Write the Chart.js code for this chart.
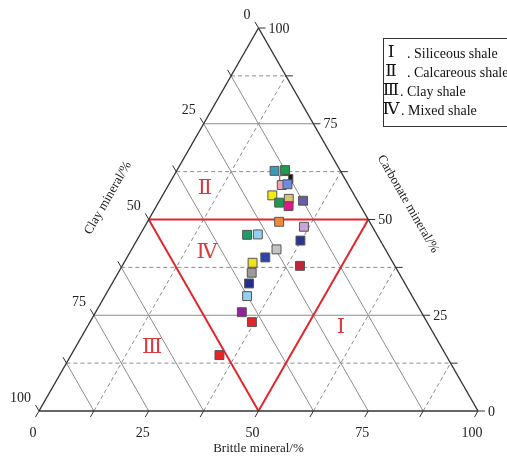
<!DOCTYPE html>
<html>
<head>
<meta charset="utf-8">
<script src="https://cdn.jsdelivr.net/npm/chart.js@4.4.0/dist/chart.umd.min.js"></script>
<style>
  body { margin: 0; background: #fff; }
  #wrap { width: 507px; height: 457px; }
</style>
</head>
<body>
<div id="wrap"><canvas id="ternaryChart" width="507" height="457"></canvas></div>
<script>
// sample composition, in %
const brittle   = [22.3, 24.6, 26.5, 25.7, 25.8, 27.0, 25.0, 27.5, 29.2, 30.1, 32.7, 30.0, 36.3, 24.4, 26.8, 37.3, 33.0, 31.5, 29.3, 30.4, 40.5, 31.2, 32.4, 33.3, 36.9, 33.8];
const carbonate = [62.7, 62.9, 60.6, 60.3, 59.0, 59.2, 56.3, 54.4, 55.4, 53.5, 54.9, 49.4, 48.1, 46.0, 46.1, 44.5, 42.2, 40.1, 38.7, 36.1, 37.9, 33.3, 30.0, 25.8, 23.2, 14.6];
const clay      = [15.0, 12.5, 12.9, 14.0, 15.2, 13.8, 18.7, 18.1, 15.4, 16.4, 12.4, 20.6, 15.6, 29.6, 27.1, 18.2, 24.8, 28.4, 32.0, 33.5, 21.6, 35.5, 37.6, 40.9, 39.9, 51.6];

const markerColors = ['#3b9bb5', '#1f9a4c', '#1a1a1a', '#ffffff', '#eaa3bd', '#6b8ee0', '#f4ea10', '#1d9a52', '#d6c46e', '#e4148c', '#6c5ca6', '#f08a3a', '#c9a4d6',
                      '#1f9a6a', '#8fd2f2', '#283593', '#c4c4c4', '#2b45a8', '#f2e21c', '#9a9a9a', '#c3243a', '#22308c', '#92d0ee', '#93239a', '#e3242b', '#e3242b'];

const tickValues = [0, 25, 50, 75, 100];
const gridSteps = [12.5, 25, 37.5, 50, 62.5, 75, 87.5];

const romanLabels = ['Ⅰ', 'Ⅱ', 'Ⅲ', 'Ⅳ'];
const shaleTypes = ['Siliceous shale', 'Calcareous shale', 'Clay shale', 'Mixed shale'];

const SQ3 = Math.sqrt(3) / 2;
const SERIF = '"Liberation Serif", "DejaVu Serif", serif';
const RED = '#e0262e';

// brittle/carbonate % -> pixel
function tern(chart, b, c) {
    return [chart.scales.x.getPixelForValue(b + c / 2), chart.scales.y.getPixelForValue(c * SQ3)];
}

function seg(ctx, p, q, color, width, dash) {
    ctx.save();
    ctx.strokeStyle = color;
    ctx.lineWidth = width;
    ctx.setLineDash(dash || []);
    ctx.beginPath();
    ctx.moveTo(p[0], p[1]);
    ctx.lineTo(q[0], q[1]);
    ctx.stroke();
    ctx.restore();
}

const ternaryFrame = {
    id: 'ternaryFrame',
    beforeDatasetsDraw(chart) {
        const ctx = chart.ctx;
        const grey = '#8c8c8c';

        gridSteps.forEach((v) => {
            const odd = v % 25 !== 0;
            // carbonate = v (horizontal)
            if (v !== 50) seg(ctx, tern(chart, 0, v), tern(chart, 100 - v, v), grey, 1, odd ? [4, 3] : null);
            // clay = v (parallel to right edge)
            if (v !== 50) seg(ctx, tern(chart, 0, 100 - v), tern(chart, 100 - v, 0), grey, 1);
            // brittle = v (parallel to left edge), only odd steps
            if (odd) seg(ctx, tern(chart, v, 0), tern(chart, v, 100 - v), grey, 1, [4, 3]);
        });

        // mixed shale triangle
        seg(ctx, tern(chart, 0, 50), tern(chart, 50, 50), RED, 2);
        seg(ctx, tern(chart, 0, 50), tern(chart, 50, 0), RED, 2);
        seg(ctx, tern(chart, 50, 0), tern(chart, 50, 50), RED, 2);

        // outline
        const A = tern(chart, 0, 0), B = tern(chart, 100, 0), C = tern(chart, 0, 100);
        seg(ctx, A, B, '#333', 1.4);
        seg(ctx, B, C, '#333', 1.4);
        seg(ctx, C, A, '#333', 1.4);

        // ticks (continuation of the grid lines)
        const L = 7;
        [0].concat(gridSteps, [100]).forEach((v) => {
            const pl = tern(chart, 0, 100 - v);          // clay on left edge
            seg(ctx, pl, [pl[0] - 0.5 * L, pl[1] - SQ3 * L], '#333', 1);
            const pr = tern(chart, 100 - v, v);          // carbonate on right edge
            seg(ctx, pr, [pr[0] + L, pr[1]], '#333', 1);
            const pb = tern(chart, v, 0);                // brittle on bottom
            seg(ctx, pb, [pb[0] - 0.5 * L, pb[1] + SQ3 * L], '#333', 1);
        });
    },
    afterDatasetsDraw(chart) {
        const ctx = chart.ctx;
        ctx.save();
        ctx.fillStyle = '#222';
        ctx.font = '14px ' + SERIF;
        ctx.textBaseline = 'middle';

        tickValues.forEach((v) => {
            const pl = tern(chart, 0, 100 - v);
            ctx.textAlign = 'right';
            ctx.fillText(String(v), pl[0] - 8, pl[1] - 13);
            const pr = tern(chart, 100 - v, v);
            ctx.textAlign = 'left';
            ctx.fillText(String(v), pr[0] + 10, pr[1] + 1);
            const pb = tern(chart, v, 0);
            ctx.textAlign = 'center';
            ctx.fillText(String(v), pb[0] - 6, pb[1] + 22);
        });

        // axis titles
        ctx.font = '13px ' + SERIF;
        ctx.textAlign = 'center';
        const pb = tern(chart, 50, 0);
        ctx.fillText('Brittle mineral/%', pb[0], pb[1] + 38);

        ctx.save();
        ctx.translate(108, 198);
        ctx.rotate(-Math.PI / 3);
        ctx.fillText('Clay mineral/%', 0, 0);
        ctx.restore();

        ctx.save();
        ctx.translate(408, 204);
        ctx.rotate(Math.PI / 3);
        ctx.fillText('Carbonate mineral/%', 0, 0);
        ctx.restore();

        // region numerals
        ctx.fillStyle = '#d93a42';
        ctx.font = '21px ' + SERIF;
        const spots = [[57.8, 21.9], [8.7, 58.2], [17.4, 16.7], [17.5, 41.5]];
        romanLabels.forEach((r, i) => {
            const p = tern(chart, spots[i][0], spots[i][1]);
            ctx.fillText(r, p[0], p[1]);
        });

        // legend box
        ctx.strokeStyle = '#333';
        ctx.lineWidth = 1;
        ctx.strokeRect(383.5, 38.5, 140, 88);
        ctx.fillStyle = '#111';
        const rowY = [53, 72, 91, 110];
        const textX = [407, 407, 400, 401];
        romanLabels.forEach((r, i) => {
            ctx.font = '17px ' + SERIF;
            ctx.textAlign = 'center';
            ctx.fillText(r, 391, rowY[i]);
            ctx.font = '14px ' + SERIF;
            ctx.textAlign = 'left';
            ctx.fillText('. ' + shaleTypes[i], textX[i], rowY[i] + 1);
        });
        ctx.restore();
    }
};

function createChart() {
    const ctx = document.getElementById('ternaryChart').getContext('2d');

    const points = brittle.map((b, i) => {
        const total = b + carbonate[i] + clay[i];
        const bb = b / total * 100;
        const cc = carbonate[i] / total * 100;
        return { x: bb + cc / 2, y: cc * SQ3 };
    });

    new Chart(ctx, {
        type: 'scatter',
        data: {
            datasets: [{
                label: 'Samples',
                data: points,
                pointStyle: 'rect',
                pointRadius: 6.3,
                pointBackgroundColor: markerColors,
                pointBorderColor: '#555',
                pointBorderWidth: 1,
                clip: false
            }]
        },
        options: {
            responsive: false,
            animation: false,
            devicePixelRatio: 1,
            layout: { padding: { left: 39, right: 29, top: 28, bottom: 46 } },
            plugins: {
                legend: { display: false },
                tooltip: { enabled: false }
            },
            scales: {
                x: { type: 'linear', min: 0, max: 100, display: false },
                y: { type: 'linear', min: 0, max: 100 * SQ3, display: false }
            }
        },
        plugins: [ternaryFrame]
    });
}

createChart();
</script>
</body>
</html>
